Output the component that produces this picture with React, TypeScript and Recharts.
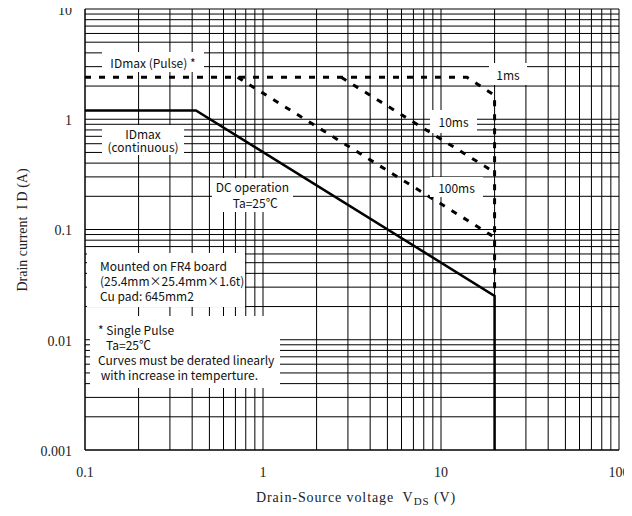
import React from 'react';
import { LineChart, Line, XAxis, YAxis, CartesianGrid, Label } from 'recharts';

// axis decades (tick labels) and the 1..9 steps used for the log grid
const voltageDecades = [0.1, 1, 10, 100];
const currentDecades = [0.001, 0.01, 0.1, 1, 10];
const gridSteps = [1, 2, 3, 4, 5, 6, 7, 8, 9];

// safe operating area curves
const dcVoltage = [0.1, 0.42, 20, 20];
const dcCurrent = [1.2, 1.2, 0.025, 0.001];
const pulse1msVoltage = [0.1, 14, 20, 20];
const pulse1msCurrent = [2.4, 2.4, 1.65, 0.025];
const pulse10msVoltage = [2.75, 20];
const pulse10msCurrent = [2.4, 0.33];
const pulse100msVoltage = [0.72, 20];
const pulse100msCurrent = [2.4, 0.085];

const logGrid = (decades: number[]) => [
  ...decades.slice(0, -1).flatMap(d => gridSteps.map(s => +(d * s).toPrecision(3))),
  decades[decades.length - 1],
];

const toPoints = (v: number[], i: number[]) => v.map((x, k) => ({ v: x, i: i[k] }));

const dcData = toPoints(dcVoltage, dcCurrent);
const p1Data = toPoints(pulse1msVoltage, pulse1msCurrent);
const p10Data = toPoints(pulse10msVoltage, pulse10msCurrent);
const p100Data = toPoints(pulse100msVoltage, pulse100msCurrent);

const serif = '"Liberation Serif", "DejaVu Serif", serif';
const gothic = '"Noto Sans CJK JP", "Noto Sans", sans-serif';

const XTick = (props: any) => {
  const { x, y, payload } = props;
  if (!voltageDecades.includes(payload.value)) return <g />;
  return (
    <text x={x} y={y} dy={27} textAnchor="middle" fontFamily={serif} fontSize={14} fill="#222">
      {String(payload.value)}
    </text>
  );
};

const YTick = (props: any) => {
  const { x, y, payload } = props;
  if (!currentDecades.includes(payload.value)) return <g />;
  return (
    <text x={x - 13} y={y + 1} dy="0.35em" textAnchor="end" fontFamily={serif} fontSize={14} fill="#222">
      {String(payload.value)}
    </text>
  );
};

const XTitle = () => (
  <text
    x={356}
    y={502}
    textAnchor="middle"
    fontFamily={serif}
    fontSize={14}
    letterSpacing={0.9}
    fill="#222"
    style={{ whiteSpace: 'pre' }}
  >
    {'Drain-Source voltage  V'}
    <tspan dy={3} fontSize={11}>DS</tspan>
    <tspan dy={-3}>{' (V)'}</tspan>
  </text>
);

const YTitle = () => (
  <text
    x={22}
    y={230}
    transform="rotate(-90 22 230)"
    textAnchor="middle"
    dy="0.35em"
    fontFamily={serif}
    fontSize={14}
    fill="#222"
    style={{ whiteSpace: 'pre' }}
  >
    {'Drain current  I D (A)'}
  </text>
);

const Note = ({ left, top, width, height, align = 'center', children }: any) => (
  <div
    style={{
      position: 'absolute',
      left,
      top,
      width,
      height,
      background: '#fff',
      fontFamily: gothic,
      fontSize: 12,
      lineHeight: '15px',
      color: '#111',
      textAlign: align,
      display: 'flex',
      flexDirection: 'column',
      justifyContent: 'center',
      whiteSpace: 'pre',
    }}
  >
    {children}
  </div>
);

const dashed = { stroke: '#000', strokeWidth: 3, strokeDasharray: '6 8', dot: false, isAnimationActive: false };

export default function App() {
  return (
    <div style={{ position: 'relative', top: -8, left: -8, width: 632, height: 516 }}>
      <LineChart width={632} height={516} margin={{ top: 9, right: 13, bottom: 16, left: 0 }}>
        <CartesianGrid stroke="#000" strokeWidth={1} />
        <XAxis
          type="number"
          dataKey="v"
          scale="log"
          domain={[0.1, 100]}
          ticks={logGrid(voltageDecades)}
          interval={0}
          allowDataOverflow
          height={50}
          tickSize={0}
          tickMargin={0}
          tickLine={false}
          axisLine={{ stroke: '#000' }}
          tick={<XTick />}
        >
          <Label content={<XTitle />} />
        </XAxis>
        <YAxis
          type="number"
          dataKey="i"
          scale="log"
          domain={[0.001, 10]}
          ticks={logGrid(currentDecades)}
          interval={0}
          allowDataOverflow
          width={85}
          tickSize={0}
          tickMargin={0}
          tickLine={false}
          axisLine={{ stroke: '#000' }}
          tick={<YTick />}
        >
          <Label content={<YTitle />} />
        </YAxis>
        <Line data={p100Data} dataKey="i" type="linear" {...dashed} />
        <Line data={p10Data} dataKey="i" type="linear" {...dashed} />
        <Line data={p1Data} dataKey="i" type="linear" {...dashed} />
        <Line data={dcData} dataKey="i" type="linear" stroke="#000" strokeWidth={2.5} dot={false} isAnimationActive={false} />
      </LineChart>

      <Note left={102} top={52} width={102} height={20}>{'IDmax (Pulse) *'}</Note>
      <Note left={489} top={63} width={38} height={22}>{'1ms'}</Note>
      <Note left={102} top={125} width={82} height={30}>
        <span style={{ lineHeight: '13px' }}>{'IDmax\n(continuous)'}</span>
      </Note>
      <Note left={430} top={110} width={47} height={23}>{'10ms'}</Note>
      <Note left={212} top={178} width={81} height={34}>
        <span style={{ lineHeight: '16px' }}>{'DC operation\n  Ta=25℃'}</span>
      </Note>
      <Note left={430} top={177} width={53} height={20}>{'100ms'}</Note>
      <Note left={87} top={253} width={158} height={54} align="left">
        <span style={{ paddingLeft: 13 }}>{'Mounted on FR4 board\n(25.4mm×25.4mm×1.6t)\nCu pad: 645mm2'}</span>
      </Note>
      <Note left={90} top={316} width={190} height={72} align="left">
        <span style={{ paddingLeft: 8 }}>
          {'* Single Pulse\n   Ta=25℃\nCurves must be derated linearly\n with increase in temperture.'}
        </span>
      </Note>
    </div>
  );
}
